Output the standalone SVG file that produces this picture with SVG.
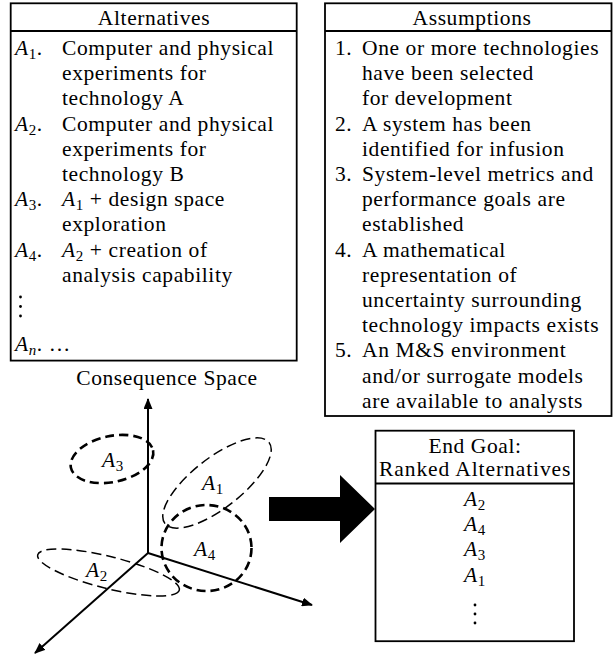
<svg xmlns="http://www.w3.org/2000/svg" width="613" height="655" viewBox="0 0 613 655">
  <style>
    text { font-family: "Liberation Serif", "Times New Roman", serif; fill: #000; }
    .t { font-size: 21.5px; letter-spacing: 0.6px; }
    .h { font-size: 21.5px; letter-spacing: 0.6px; text-anchor: middle; }
    .m { font-style: italic; }
    .box { fill: #fff; stroke: #000; stroke-width: 1.8; }
    .rule { stroke: #000; stroke-width: 2.2; }
    .axis { stroke: #000; stroke-width: 2; fill: none; }
    .thick { fill: none; stroke: #000; stroke-width: 2.6; stroke-dasharray: 9 5; }
    .thin { fill: none; stroke: #000; stroke-width: 1.5; stroke-dasharray: 10 5; }
  </style>
  <defs>
    <marker id="tip" viewBox="0 0 11 9" refX="10" refY="4.5" markerWidth="11" markerHeight="9" markerUnits="userSpaceOnUse" orient="auto">
      <path d="M0,0 L11,4.5 L0,9 z" fill="#000"/>
    </marker>
  </defs>

  <rect width="613" height="655" fill="#fff"/>

  <!-- Alternatives table -->
  <g id="alternatives">
    <rect class="box" x="10.7" y="3.3" width="286" height="357.3"/>
    <line class="rule" x1="10.7" y1="31" x2="296.7" y2="31"/>
    <text class="h" x="154" y="25">Alternatives</text>
    <text class="t" x="15" y="55"><tspan class="m">A</tspan><tspan font-size="15" dy="4">1</tspan><tspan dy="-4">.</tspan></text>
    <text class="t" x="62" y="55">Computer and physical</text>
    <text class="t" x="62" y="80.2">experiments for</text>
    <text class="t" x="62" y="105.4">technology A</text>
    <text class="t" x="15" y="130.6"><tspan class="m">A</tspan><tspan font-size="15" dy="4">2</tspan><tspan dy="-4">.</tspan></text>
    <text class="t" x="62" y="130.6">Computer and physical</text>
    <text class="t" x="62" y="155.8">experiments for</text>
    <text class="t" x="62" y="181">technology B</text>
    <text class="t" x="15" y="206.2"><tspan class="m">A</tspan><tspan font-size="15" dy="4">3</tspan><tspan dy="-4">.</tspan></text>
    <text class="t" x="62" y="206.2"><tspan class="m">A</tspan><tspan font-size="15" dy="4">1</tspan><tspan dy="-4"> + design space</tspan></text>
    <text class="t" x="62" y="231.4">exploration</text>
    <text class="t" x="15" y="256.6"><tspan class="m">A</tspan><tspan font-size="15" dy="4">4</tspan><tspan dy="-4">.</tspan></text>
    <text class="t" x="62" y="256.6"><tspan class="m">A</tspan><tspan font-size="15" dy="4">2</tspan><tspan dy="-4"> + creation of</tspan></text>
    <text class="t" x="62" y="281.8">analysis capability</text>
    <circle cx="20.5" cy="297" r="1.4"/>
    <circle cx="20.5" cy="306.5" r="1.4"/>
    <circle cx="20.5" cy="316" r="1.4"/>
    <text class="t" x="15" y="351"><tspan class="m">A</tspan><tspan class="m" font-size="15" dy="4">n</tspan><tspan dy="-4">. …</tspan></text>
  </g>

  <!-- Assumptions table -->
  <g id="assumptions">
    <rect class="box" x="325" y="3.3" width="286.5" height="412.7"/>
    <line class="rule" x1="325" y1="31" x2="611.5" y2="31"/>
    <text class="h" x="472" y="25">Assumptions</text>
    <text class="t" x="335" y="55">1.</text>
    <text class="t" x="362" y="55">One or more technologies</text>
    <text class="t" x="362" y="80.2">have been selected</text>
    <text class="t" x="362" y="105.4">for development</text>
    <text class="t" x="335" y="130.6">2.</text>
    <text class="t" x="362" y="130.6">A system has been</text>
    <text class="t" x="362" y="155.8">identified for infusion</text>
    <text class="t" x="335" y="181">3.</text>
    <text class="t" x="362" y="181">System-level metrics and</text>
    <text class="t" x="362" y="206.2">performance goals are</text>
    <text class="t" x="362" y="231.4">established</text>
    <text class="t" x="335" y="256.6">4.</text>
    <text class="t" x="362" y="256.6">A mathematical</text>
    <text class="t" x="362" y="281.8">representation of</text>
    <text class="t" x="362" y="307">uncertainty surrounding</text>
    <text class="t" x="362" y="332.2">technology impacts exists</text>
    <text class="t" x="335" y="357.4">5.</text>
    <text class="t" x="362" y="357.4">An M&amp;S environment</text>
    <text class="t" x="362" y="382.6">and/or surrogate models</text>
    <text class="t" x="362" y="407.8">are available to analysts</text>
  </g>

  <!-- Consequence space: three axes and alternative regions -->
  <g id="consequence-space">
    <text class="h" x="167" y="385">Consequence Space</text>
    <line class="axis" x1="148" y1="553" x2="148" y2="399" marker-end="url(#tip)"/>
    <line class="axis" x1="148" y1="553" x2="312" y2="605" marker-end="url(#tip)"/>
    <line class="axis" x1="148" y1="553" x2="35" y2="653" marker-end="url(#tip)"/>

    <g id="region-a3">
      <ellipse class="thick" cx="112" cy="459" rx="42" ry="23" transform="rotate(-12 112 459)"/>
      <text class="t" x="102" y="467"><tspan class="m">A</tspan><tspan font-size="15" dy="4">3</tspan></text>
    </g>
    <g id="region-a1">
      <ellipse class="thin" cx="217" cy="483" rx="66" ry="25" transform="rotate(-38 217 483)"/>
      <text class="t" x="202" y="490"><tspan class="m">A</tspan><tspan font-size="15" dy="4">1</tspan></text>
    </g>
    <g id="region-a4">
      <ellipse class="thick" cx="206.5" cy="548" rx="45" ry="43"/>
      <text class="t" x="194" y="556"><tspan class="m">A</tspan><tspan font-size="15" dy="4">4</tspan></text>
    </g>
    <g id="region-a2">
      <ellipse class="thin" cx="108.5" cy="572.5" rx="73" ry="16" transform="rotate(14 108.5 572.5)"/>
      <text class="t" x="86" y="577"><tspan class="m">A</tspan><tspan font-size="15" dy="4">2</tspan></text>
    </g>
  </g>

  <!-- Connector: block arrow to the ranking -->
  <g id="connectors">
    <polygon points="269,497 340,497 340,475 375,509 340,543 340,521 269,521" fill="#000"/>
  </g>

  <!-- End goal: ranked alternatives -->
  <g id="end-goal">
    <rect class="box" x="375.5" y="430.7" width="198.5" height="210.5"/>
    <line class="rule" x1="375.5" y1="483.5" x2="574" y2="483.5"/>
    <text class="h" x="475" y="453">End Goal:</text>
    <text class="h" x="475" y="476" textLength="192" lengthAdjust="spacing">Ranked Alternatives</text>
    <text class="h" x="475" y="506"><tspan class="m">A</tspan><tspan font-size="15" dy="4">2</tspan></text>
    <text class="h" x="475" y="531"><tspan class="m">A</tspan><tspan font-size="15" dy="4">4</tspan></text>
    <text class="h" x="475" y="556"><tspan class="m">A</tspan><tspan font-size="15" dy="4">3</tspan></text>
    <text class="h" x="475" y="582"><tspan class="m">A</tspan><tspan font-size="15" dy="4">1</tspan></text>
    <circle cx="475" cy="605" r="1.4"/>
    <circle cx="475" cy="614" r="1.4"/>
    <circle cx="475" cy="623" r="1.4"/>
  </g>
</svg>
